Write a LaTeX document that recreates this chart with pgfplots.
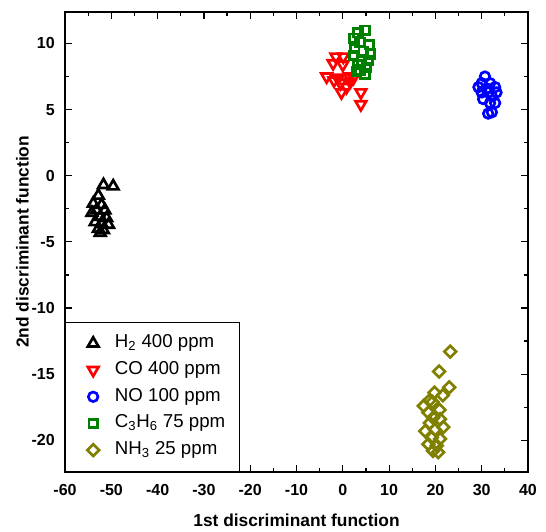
\documentclass[border=0pt]{standalone}
\usepackage{fontspec}
\setmainfont{Liberation Sans}
\usepackage{pgfplots}
\pgfplotsset{compat=1.18}

\definecolor{orired}{RGB}{255,0,0}
\definecolor{oriblue}{RGB}{0,0,255}
\definecolor{origreen}{RGB}{0,128,0}
\definecolor{oriolive}{RGB}{128,128,0}

\begin{document}
\begin{tikzpicture}
\begin{axis}[
    name=ax,
    scale only axis,
    width=347pt, height=345pt,
    xmin=-60, xmax=40,
    ymin=-22.4, ymax=12.4,
    xtick={-60,-50,...,40},
    ytick={-20,-15,...,10},
    minor x tick num=1,
    minor y tick num=1,
    tick align=inside,
    major tick length=5.25pt,
    minor tick length=3pt,
    every tick/.style={black, line width=0.9pt},
    axis line style={line width=1.3pt},
    /pgf/number format/assume math mode=true,
    tick label style={font=\bfseries\fontsize{12}{12}\selectfont},
    xticklabel style={anchor=center, yshift=-13.7pt},
    yticklabel style={anchor=east, xshift=-4.2pt},
    xlabel={1st discriminant function},
    ylabel={2nd discriminant function},
    label style={font=\bfseries\fontsize{13}{13}\selectfont},
    xlabel style={at={(axis description cs:0.5,-0.104)}, anchor=center},
    ylabel style={at={(axis description cs:-0.092,0.5)}, anchor=center, rotate=0},
    legend cell align=left,
    legend image code/.code={
        \path (0pt,0pt) (26pt,0pt);
        \draw[#1] plot coordinates {(11.5pt,0pt)};
    },
    legend style={
        at={(0,0)}, anchor=south west,
        draw=black, line width=0.6pt, fill=white,
        inner xsep=9pt, inner ysep=7pt,
        row sep=1.8pt,
        font=\fontsize{14}{14}\selectfont,
        nodes={text height=10.3pt, text depth=3.9pt, inner xsep=1.5pt},
    },
]
% H2 400 ppm
\addplot[only marks, mark=triangle, mark size=4.6pt, black,
         mark options={line width=2pt}] coordinates {
    (-51.7,-0.7) (-49.6,-0.8) (-52.8,-1.5) (-52.1,-2.2) (-53.9,-2.1)
    (-53.2,-2.6) (-51.4,-2.6) (-54.2,-2.8) (-52.4,-3.1) (-51.0,-3.2)
    (-53.5,-3.5) (-52.1,-3.6) (-52.8,-4.0) (-51.7,-4.1) (-52.4,-4.3)
    (-50.6,-3.7)
};
\addlegendentry{H\textsubscript{2} 400 ppm}
% CO 400 ppm
\addplot[only marks, mark=triangle, mark size=4.6pt, orired,
         mark options={line width=2pt, rotate=180}] coordinates {
    (-1.5,9.0) (0.1,9.0) (-2.1,8.5) (0.0,8.4) (-3.5,7.5)
    (-1.0,7.4) (1.4,7.5) (-0.5,7.0) (-1.9,7.2) (0.8,6.7)
    (-0.3,6.3) (3.9,6.3) (3.9,5.4) (1.6,7.1) (2.3,7.4)
};
\addlegendentry{CO 400 ppm}
% NO 100 ppm
\addplot[only marks, mark=o, mark size=3.6pt, oriblue,
         mark options={line width=2pt}] coordinates {
    (30.7,7.5) (30.0,7.0) (31.8,7.0) (29.3,6.7) (31.1,6.6)
    (32.9,6.7) (30.0,6.3) (31.4,6.3) (33.2,6.3) (30.3,5.8)
    (32.2,6.0) (31.8,5.5) (32.9,5.5) (31.4,4.7) (32.2,4.8)
};
\addlegendentry{NO 100 ppm}
% C3H6 75 ppm
\addplot[only marks, mark=square, mark size=3.2pt, origreen,
         mark options={line width=2pt}] coordinates {
    (4.8,11.0) (3.3,10.8) (2.4,10.4) (3.7,10.1) (5.7,9.9)
    (2.6,9.6) (4.4,9.4) (5.9,9.2) (2.3,9.1) (4.1,8.7)
    (5.5,8.7) (3.3,8.4) (5.1,8.2) (3.0,7.9) (4.8,7.7)
    (3.7,8.0)
};
\addlegendentry{C\textsubscript{3}H\textsubscript{6} 75 ppm}
% NH3 25 ppm
\addplot[only marks, mark=square, mark size=3.1pt, oriolive,
         mark options={line width=2pt, rotate=45}] coordinates {
    (23.2,-13.3) (20.8,-14.8) (23.0,-16.0) (19.8,-16.4) (21.6,-16.6)
    (18.7,-17.0) (17.5,-17.4) (19.4,-17.1) (20.9,-17.7) (18.5,-17.9)
    (19.5,-18.3) (21.0,-18.4) (18.8,-18.7) (17.8,-19.3) (19.9,-19.2)
    (21.7,-19.0) (19.2,-19.8) (21.0,-19.9) (18.5,-20.3) (20.3,-20.4)
    (19.5,-20.8) (20.6,-20.9)
};
\addlegendentry{NH\textsubscript{3} 25 ppm}
\end{axis}
\path ([xshift=-48.75pt,yshift=-44.5pt]ax.south west)
      rectangle ([xshift=13.5pt,yshift=8.8pt]ax.north east);
\end{tikzpicture}
\end{document}
